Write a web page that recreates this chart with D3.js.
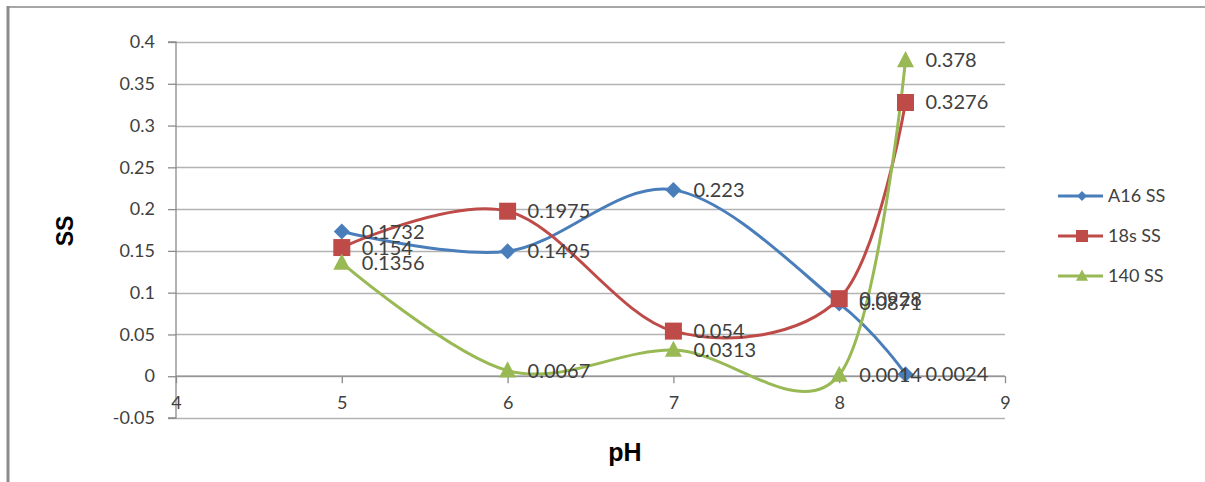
<!DOCTYPE html>
<html>
<head>
<meta charset="utf-8">
<script src="https://cdn.jsdelivr.net/npm/d3@7"></script>
<style>
  html, body { margin: 0; padding: 0; background: #fff; }
  svg { display: block; }
  text { font-family: Lato, "Open Sans", sans-serif; fill: #404040; }
</style>
</head>
<body>
<svg id="chart" width="1205" height="482"></svg>
<script>
// pH levels at which SS was measured
const phValues = [5, 6, 7, 8, 8.4];

// SS per series
const seriesNames = ["A16 SS", "18s SS", "140 SS"];
const a16Values = [0.1732, 0.1495, 0.223, 0.0871, 0.0024];
const s18Values = [0.154, 0.1975, 0.054, 0.0928, 0.3276];
const s140Values = [0.1356, 0.0067, 0.0313, 0.0014, 0.378];

// Axis ticks
const xTicks = [4, 5, 6, 7, 8, 9];
const yTicks = [-0.05, 0, 0.05, 0.1, 0.15, 0.2, 0.25, 0.3, 0.35, 0.4];
const yTickLabels = ["-0.05", "0", "0.05", "0.1", "0.15", "0.2", "0.25", "0.3", "0.35", "0.4"];

const colors = ["#4a7ebb", "#be4b48", "#98b954"];
const markers = ["diamond", "square", "triangle"];
const allValues = [a16Values, s18Values, s140Values];

const svg = d3.select("#chart");

// outer frame
svg.append("line").attr("x1", 8).attr("x2", 1205).attr("y1", 7).attr("y2", 7)
  .attr("stroke", "#a6a6a6").attr("stroke-width", 2);
svg.append("line").attr("x1", 8).attr("x2", 8).attr("y1", 6).attr("y2", 482)
  .attr("stroke", "#8c8c8c").attr("stroke-width", 3);

const x = d3.scaleLinear().domain([4, 9]).range([176, 1005]);
const y = d3.scaleLinear().domain([-0.05, 0.4]).range([418, 42]);

// horizontal gridlines
svg.append("g").selectAll("line").data(yTicks).join("line")
  .attr("x1", x(4)).attr("x2", x(9))
  .attr("y1", d => Math.round(y(d)) + 0.5).attr("y2", d => Math.round(y(d)) + 0.5)
  .attr("stroke", "#b3b3b3").attr("stroke-width", 1.3);

// y axis
const yAxis = d3.axisLeft(y).tickValues(yTicks)
  .tickFormat((d, i) => yTickLabels[i]).tickSize(8).tickPadding(13);
const gy = svg.append("g").attr("transform", `translate(${x(4)},0)`).call(yAxis);
gy.select(".domain").attr("stroke", "#8c8c8c").attr("stroke-width", 1.3).attr("d", `M-8,${y(0.4)}H0V${y(-0.05)}H-8`);
gy.selectAll(".tick line").attr("stroke", "#8c8c8c").attr("stroke-width", 1.3);
gy.selectAll(".tick text").attr("font-size", 18).attr("fill", "#404040")
  .attr("font-family", "Lato, sans-serif");

// x axis along y = 0
const xAxis = d3.axisBottom(x).tickValues(xTicks).tickFormat(d3.format("d")).tickSize(7).tickPadding(13);
const gx = svg.append("g").attr("transform", `translate(0,${y(0)})`).call(xAxis);
gx.select(".domain").attr("stroke", "#8c8c8c").attr("stroke-width", 1.3).attr("d", `M${x(4)},0H${x(9)}`);
gx.selectAll(".tick line").attr("stroke", "#8c8c8c").attr("stroke-width", 1.3);
gx.selectAll(".tick text").attr("font-size", 18).attr("fill", "#404040")
  .attr("font-family", "Lato, sans-serif");

// axis titles
svg.append("text").attr("transform", "translate(73,231) rotate(-90)")
  .attr("text-anchor", "middle").attr("font-size", 23).attr("font-weight", "bold")
  .style("font-family", "'Liberation Sans', Arial, sans-serif").style("fill", "#000").text("SS");
svg.append("text").attr("x", 625).attr("y", 461)
  .attr("text-anchor", "middle").attr("font-size", 25).attr("font-weight", "bold")
  .style("font-family", "'Liberation Sans', Arial, sans-serif").style("fill", "#000").text("pH");

// marker path generator
function markerPath(type, s) {
  if (type === "diamond") return `M0,${-s}L${s},0L0,${s}L${-s},0Z`;
  if (type === "square") return `M${-s},${-s}H${s}V${s}H${-s}Z`;
  return `M0,${-s * 1.1}L${s},${s * 0.8}H${-s}Z`;
}

const line = d3.line().x(d => x(d[0])).y(d => y(d[1])).curve(d3.curveCardinal.tension(0));

const plot = svg.append("g");
allValues.forEach((vals, si) => {
  const pts = phValues.map((p, i) => [p, vals[i]]);
  plot.append("path").datum(pts).attr("d", line)
    .attr("fill", "none").attr("stroke", colors[si]).attr("stroke-width", 3);
});
allValues.forEach((vals, si) => {
  const pts = phValues.map((p, i) => [p, vals[i]]);
  const size = markers[si] === "diamond" ? 8 : 8.5;
  plot.append("g").selectAll("path").data(pts).join("path")
    .attr("transform", d => `translate(${x(d[0])},${y(d[1])})`)
    .attr("d", markerPath(markers[si], size))
    .attr("fill", colors[si]);
});

// data labels to the right of each point
allValues.forEach((vals, si) => {
  const pts = phValues.map((p, i) => [p, vals[i]]);
  plot.append("g").selectAll("text").data(pts).join("text")
    .attr("x", d => x(d[0]) + 20).attr("y", d => y(d[1]))
    .attr("dy", "0.35em").attr("font-size", 20)
    .style("font-family", "Lato, sans-serif").style("fill", "#404040")
    .text(d => String(d[1]));
});

// legend
const legend = svg.append("g");
seriesNames.forEach((name, si) => {
  const ly = 196 + si * 40;
  legend.append("line").attr("x1", 1058).attr("x2", 1103).attr("y1", ly).attr("y2", ly)
    .attr("stroke", colors[si]).attr("stroke-width", 3);
  legend.append("path").attr("transform", `translate(1082,${ly})`)
    .attr("d", markerPath(markers[si], markers[si] === "diamond" ? 5 : 6))
    .attr("fill", colors[si]);
  legend.append("text").attr("x", 1108).attr("y", ly).attr("dy", "0.35em")
    .attr("font-size", 18).style("font-family", "Lato, sans-serif").style("fill", "#404040")
    .text(name);
});
</script>
</body>
</html>
